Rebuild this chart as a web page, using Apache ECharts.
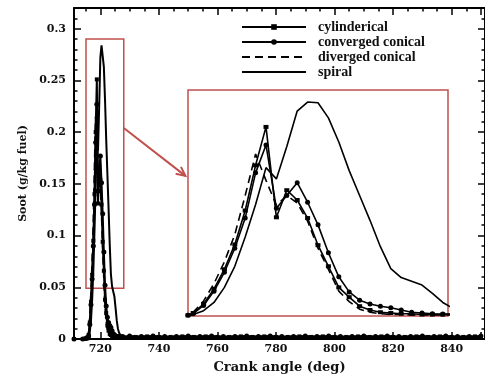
<!DOCTYPE html>
<html lang="en">
<head>
<meta charset="utf-8" />
<title>Soot vs crank angle</title>
<script src="https://cdn.jsdelivr.net/npm/echarts@6/dist/echarts.min.js"></script>
<style>
  html, body { margin: 0; padding: 0; background: #fff; }
  #chart { width: 485px; height: 382px; }
</style>
</head>
<body>
<div id="chart"></div>
<script>
// crank angle (deg) around the soot peak, shared by all four cases
var angle = [711, 714, 715, 715.8, 716.0, 716.4, 716.8, 717.2, 717.6, 718.0, 718.4, 718.8,
  719.2, 719.6, 720.0, 720.4, 720.8, 721.2, 721.6, 722.0, 722.4, 722.8, 723.2, 723.6,
  724.0, 724.4, 724.8, 725.2, 725.6, 726.0, 726.4, 726.8, 727.6];

var cylinderical = [0, 0, 0.0005, 0.001, 0.004, 0.016, 0.036, 0.062, 0.095, 0.140, 0.200, 0.251,
  0.131, 0.167, 0.154, 0.130, 0.094, 0.066, 0.038, 0.025, 0.013, 0.008, 0.005, 0.004,
  0.003, 0.003, 0.002, 0.002, 0.002, 0.002, 0.002, 0.002, 0.002];
var convergedConical = [0, 0, 0.0005, 0.001, 0.003, 0.014, 0.033, 0.058, 0.090, 0.130, 0.190, 0.227,
  0.143, 0.160, 0.177, 0.151, 0.121, 0.084, 0.052, 0.032, 0.021, 0.016, 0.013, 0.011,
  0.008, 0.005, 0.004, 0.003, 0.0025, 0.0025, 0.0025, 0.0025, 0.0025];
var divergedConical = [0, 0, 0.0005, 0.001, 0.005, 0.020, 0.043, 0.072, 0.108, 0.160, 0.215, 0.180,
  0.147, 0.160, 0.150, 0.126, 0.090, 0.062, 0.033, 0.019, 0.009, 0.005, 0.003, 0.002,
  0.002, 0.0015, 0.0015, 0.0015, 0.0015, 0.0015, 0.0015, 0.0015, 0.0015];
var spiral = [0, 0, 0, 0, 0.002, 0.007, 0.018, 0.038, 0.066, 0.105, 0.148, 0.197,
  0.182, 0.225, 0.272, 0.284, 0.283, 0.263, 0.231, 0.193, 0.160, 0.127, 0.092, 0.063,
  0.051, 0.046, 0.041, 0.030, 0.018, 0.010, 0.006, 0.004, 0.002];

// flat tail after the peak
var tailAngleA = [730, 734, 738, 742, 746, 750, 754, 758, 762, 766, 770, 774, 778, 782, 786, 790,
  794, 798, 802, 806, 810, 814, 818, 822, 826, 830, 834, 838, 842, 846, 850];
var convergedTail = [0.003, 0.0025, 0.003, 0.0025, 0.0025, 0.003, 0.0025, 0.003, 0.0025, 0.0025,
  0.003, 0.0025, 0.003, 0.0025, 0.0025, 0.003, 0.0025, 0.003, 0.0025, 0.0025,
  0.003, 0.0025, 0.003, 0.0025, 0.0025, 0.003, 0.0025, 0.003, 0.0025, 0.0025, 0.003];
var tailAngleB = [732, 736, 740, 744, 748, 752, 756, 760, 764, 768, 772, 776, 780, 784, 788,
  792, 796, 800, 804, 808, 812, 816, 820, 824, 828, 832, 836, 840, 844, 848];
var cylindericalTail = [0.002, 0.0025, 0.002, 0.002, 0.0025, 0.002, 0.0025, 0.002, 0.002, 0.0025,
  0.002, 0.0025, 0.002, 0.002, 0.0025, 0.002, 0.0025, 0.002, 0.002, 0.0025,
  0.002, 0.0025, 0.002, 0.002, 0.0025, 0.002, 0.0025, 0.002, 0.002, 0.0025];
var tailAnglePlain = [730, 760, 790, 820, 850];
var divergedTail = [0.0015, 0.0015, 0.0015, 0.0015, 0.0015];
var spiralTail = [0.0015, 0.001, 0.0015, 0.001, 0.001];

// axis ticks
var xLabels = [720, 740, 760, 780, 800, 820, 840];
var xMinor = [715, 720, 725, 730, 735, 740, 745, 750, 755, 760, 765, 770, 775, 780, 785, 790,
  795, 800, 805, 810, 815, 820, 825, 830, 835, 840, 845, 850];
var yLabels = [0, 0.05, 0.1, 0.15, 0.2, 0.25, 0.3];
var yMinor = [0, 0.01, 0.02, 0.03, 0.04, 0.05, 0.06, 0.07, 0.08, 0.09, 0.1, 0.11, 0.12, 0.13,
  0.14, 0.15, 0.16, 0.17, 0.18, 0.19, 0.2, 0.21, 0.22, 0.23, 0.24, 0.25, 0.26, 0.27, 0.28,
  0.29, 0.3, 0.31, 0.32];

// zoom box around the peak and inset ranges
var zoomBox = [[715.1, 0.049], [728.0, 0.29]];
var insetX = [715.8, 725.8];
var insetY = [0, 0.3];

var RED = '#c0504d';
var labelFont = { fontFamily: 'DejaVu Serif', fontWeight: 'bold', fontSize: 11, color: '#111' };

function pairs(xs, ys) {
  return xs.map(function (x, i) { return [x, ys[i]]; });
}

var dCyl = pairs(angle, cylinderical).concat(pairs(tailAngleB, cylindericalTail));
var dConv = pairs(angle, convergedConical).concat(pairs(tailAngleA, convergedTail));
var dDiv = pairs(angle, divergedConical).concat(pairs(tailAnglePlain, divergedTail));
var dSpi = pairs(angle, spiral).concat(pairs(tailAnglePlain, spiralTail));

function xAx(pos, ticks, len, line, labels) {
  return {
    type: 'value', gridIndex: 0, position: pos, min: 711, max: 851.4,
    axisLine: { show: line, onZero: false, lineStyle: { color: '#000', width: 2 } },
    axisTick: { show: true, inside: true, length: len, customValues: ticks,
      lineStyle: { color: '#000', width: 1.5 } },
    axisLabel: labels ? Object.assign({ customValues: xLabels, margin: 5 }, labelFont) : { show: false },
    splitLine: { show: false }
  };
}
function yAx(pos, ticks, len, line, labels) {
  return {
    type: 'value', gridIndex: 0, position: pos, min: 0, max: 0.32,
    axisLine: { show: line, onZero: false, lineStyle: { color: '#000', width: 2 } },
    axisTick: { show: true, inside: true, length: len, customValues: ticks,
      lineStyle: { color: '#000', width: 1.5 } },
    axisLabel: labels ? Object.assign({ customValues: yLabels, margin: 8 }, labelFont) : { show: false },
    splitLine: { show: false }
  };
}

var xAxes = [
  xAx('bottom', xLabels.concat([850]), 7, true, true),
  xAx('bottom', xMinor, 3.5, false, false),
  xAx('top', xLabels.concat([850]), 7, true, false),
  xAx('top', xMinor, 3.5, false, false),
  { type: 'value', gridIndex: 1, min: insetX[0], max: insetX[1], show: false }
];
xAxes[0].name = 'Crank angle (deg)';
xAxes[0].nameLocation = 'middle';
xAxes[0].nameGap = 22;
xAxes[0].nameTextStyle = { fontFamily: 'DejaVu Serif', fontWeight: 'bold', fontSize: 13, color: '#111' };

var yAxes = [
  yAx('left', yLabels, 7, true, true),
  yAx('left', yMinor, 3.5, false, false),
  yAx('right', yLabels, 7, true, false),
  yAx('right', yMinor, 3.5, false, false),
  { type: 'value', gridIndex: 1, min: insetY[0], max: insetY[1], show: false }
];
yAxes[0].name = 'Soot (g/kg fuel)';
yAxes[0].nameLocation = 'middle';
yAxes[0].nameGap = 42;
yAxes[0].nameTextStyle = { fontFamily: 'DejaVu Serif', fontWeight: 'bold', fontSize: 11, color: '#111' };

function mkSeries(name, data, inset) {
  var s = {
    name: name, type: 'line', data: data,
    xAxisIndex: inset ? 4 : 0, yAxisIndex: inset ? 4 : 0,
    showSymbol: false, symbol: 'none', z: inset ? 5 : 2,
    lineStyle: { color: '#000', width: inset ? 1.6 : 2 },
    itemStyle: { color: '#000' }
  };
  if (name === 'cylinderical') {
    s.symbol = 'rect'; s.showSymbol = true; s.symbolSize = inset ? [5, 4] : 4;
  } else if (name === 'converged conical') {
    s.symbol = 'circle'; s.showSymbol = true; s.symbolSize = 5;
  } else if (name === 'diverged conical') {
    s.lineStyle.type = [8, 5];
  }
  return s;
}

var names = ['cylinderical', 'converged conical', 'diverged conical', 'spiral'];
var sets = [dCyl, dConv, dDiv, dSpi];
var series = [];
names.forEach(function (n, i) { series.push(mkSeries(n, sets[i], false)); });
names.forEach(function (n, i) { series.push(mkSeries(n, sets[i], true)); });

series[3].markArea = {
  silent: true,
  itemStyle: { color: 'rgba(0,0,0,0)', borderColor: RED, borderWidth: 1.5 },
  data: [[{ coord: zoomBox[0] }, { coord: zoomBox[1] }]]
};

var chart = echarts.init(document.getElementById('chart'));
chart.setOption({
  animation: false,
  backgroundColor: '#fff',
  grid: [
    { left: 74, top: 8, width: 412, height: 331 },
    { left: 188, top: 90, width: 260, height: 226, show: true, backgroundColor: '#fff',
      borderColor: RED, borderWidth: 1.5, z: 4 }
  ],
  legend: {
    orient: 'vertical', left: 236, top: 15,
    itemWidth: 64, itemHeight: 7, itemGap: 1,
    data: [
      { name: names[0] },
      { name: names[1] },
      { name: names[2], itemStyle: { opacity: 0 } },
      { name: names[3], itemStyle: { opacity: 0 } }
    ],
    textStyle: { fontFamily: 'Liberation Serif', fontWeight: 'bold', fontSize: 14,
      color: '#111', padding: [0, 0, 0, 7] }
  },
  xAxis: xAxes,
  yAxis: yAxes,
  series: series
});

// arrow from the zoom box to the inset
var p0 = chart.convertToPixel({ xAxisIndex: 0, yAxisIndex: 0 }, [zoomBox[1][0], 0.204]);
var p1 = chart.convertToPixel({ xAxisIndex: 4, yAxisIndex: 4 }, [insetX[0] - 0.1, 0.186]);
var ang = Math.atan2(p1[1] - p0[1], p1[0] - p0[0]);
var head = 10, spread = 0.45;
chart.setOption({
  graphic: [
    { type: 'line', z: 10, shape: { x1: p0[0], y1: p0[1], x2: p1[0], y2: p1[1] },
      style: { stroke: RED, lineWidth: 2 } },
    { type: 'polyline', z: 10, shape: { points: [
        [p1[0] - head * Math.cos(ang - spread), p1[1] - head * Math.sin(ang - spread)],
        [p1[0], p1[1]],
        [p1[0] - head * Math.cos(ang + spread), p1[1] - head * Math.sin(ang + spread)]
      ] }, style: { stroke: RED, lineWidth: 2, fill: null } }
  ]
});
</script>
</body>
</html>
